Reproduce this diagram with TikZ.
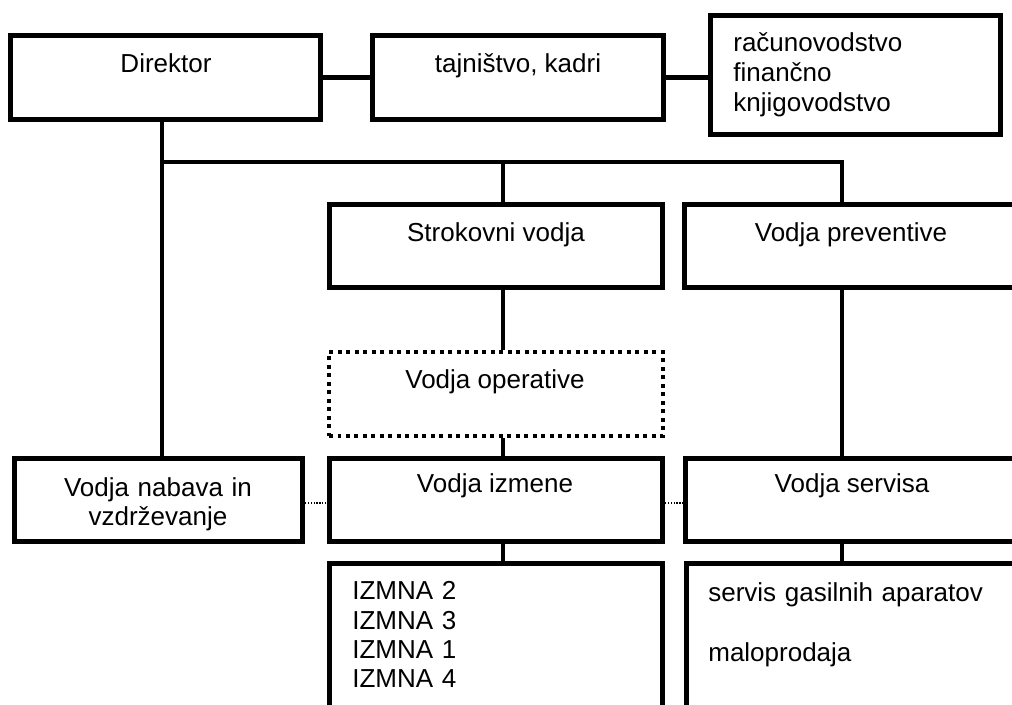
\documentclass[tikz,border=0pt]{standalone}
\usepackage{fontspec}
\setmainfont{Liberation Sans}
\usetikzlibrary{fit,calc}

\begin{document}
\begin{tikzpicture}[x=0.02cm, y=-0.02cm,
    box/.style={draw, line width=3.1pt, inner sep=0pt},
    opbox/.style={draw, line width=2.3pt, dash pattern=on 0.08cm off 0.09cm, inner sep=0pt},
    txt/.style={inner sep=0pt, font=\fontsize{14.8}{17}\selectfont},
    link/.style={line width=2.3pt},
    weak/.style={line width=0.7pt, dash pattern=on 0.7pt off 0.9pt}]
        \useasboundingbox (0,0) rectangle (1012,705);
        \clip (0,0) rectangle (1012,705);

        % Top row
        \node[box, fit={(10.5,35.5) (320.5,119.5)}] (direktor) {};
        \node[box, fit={(372.5,35.5) (663.5,119.5)}] (tajnistvo) {};
        \node[box, fit={(710.5,15.5) (1000.5,134.5)}] (racun) {};
        \node[txt, anchor=base] (direktorT) at (166,73) {Direktor};
        \node[txt, anchor=base] (tajnistvoT) at (518,73) {tajništvo, kadri};
        \node[txt, anchor=base west, text width=5cm, align=left] (racunT) at (733,52) {računovodstvo\\finančno\\knjigovodstvo};

        % Second row
        \node[box, fit={(329.5,204.5) (662.5,287.5)}] (strokovni) {};
        \node[box, fit={(684.5,204.5) (1040,287.5)}] (preventiva) {};
        \node[txt, anchor=base] (strokovniT) at (496,242) {Strokovni vodja};
        \node[txt, anchor=base] (preventivaT) at (851,242) {Vodja preventive};

        % Dotted box
        \node[opbox, fit={(329,352) (663,436)}] (operativa) {};
        \node[txt, anchor=base] (operativaT) at (495,389) {Vodja operative};

        % Fourth row
        \node[box, fit={(14.5,458.5) (302.5,541.5)}] (nabava) {};
        \node[box, fit={(329.5,458.5) (662.5,541.5)}] (izmene) {};
        \node[box, fit={(685.5,458.5) (1040,541.5)}] (servisa) {};
        \node[txt, anchor=base, text width=5.6cm, align=center, font=\fontsize{14.8}{16}\selectfont] (nabavaT) at (158,497) {Vodja nabava in\\vzdrževanje};
        \node[txt, anchor=base] (izmeneT) at (495,493) {Vodja izmene};
        \node[txt, anchor=base] (servisaT) at (852,493) {Vodja servisa};

        % Bottom row
        \node[box, fit={(329.5,563.5) (662.5,740)}] (izmne) {};
        \node[box, fit={(686.5,563.5) (1040,740)}] (servis) {};
        \node[txt, anchor=base west, text width=4cm, align=left, font=\fontsize{14.8}{16.6}\selectfont] (izmneT) at (352,600) {IZMNA 2\\IZMNA 3\\IZMNA 1\\IZMNA 4};
        \node[txt, anchor=base west, text width=6cm, align=left] (servisT) at (708,602) {servis gasilnih aparatov\\[17pt]maloprodaja};

        % Connectors
        \coordinate (busL) at (162,162);
        \coordinate (busM) at (503,162);
        \coordinate (busR) at (842,162);
        \coordinate (dotrow) at (0,503);
        \draw[link] (direktor) -- (tajnistvo);
        \draw[link] (tajnistvo.east) -- (tajnistvo.east -| racun.west);
        \draw[link] (direktor.south -| busL) -- (nabava.north -| busL);
        \draw[link] (busL) -- (busR) -- (preventiva.north -| busR);
        \draw[link] (busM) -- (strokovni.north -| busM);
        \draw[link] (strokovni.south -| busM) -- (operativa.north -| busM);
        \draw[link] (operativa.south -| busM) -- (izmene.north -| busM);
        \draw[link] (izmene.south -| busM) -- (izmne.north -| busM);
        \draw[link] (preventiva.south -| busR) -- (servisa.north -| busR);
        \draw[link] (servisa.south -| busR) -- (servis.north -| busR);
        \draw[weak] (nabava.east |- dotrow) -- (izmene.west |- dotrow);
        \draw[weak] (izmene.east |- dotrow) -- (servisa.west |- dotrow);
\end{tikzpicture}
\end{document}
